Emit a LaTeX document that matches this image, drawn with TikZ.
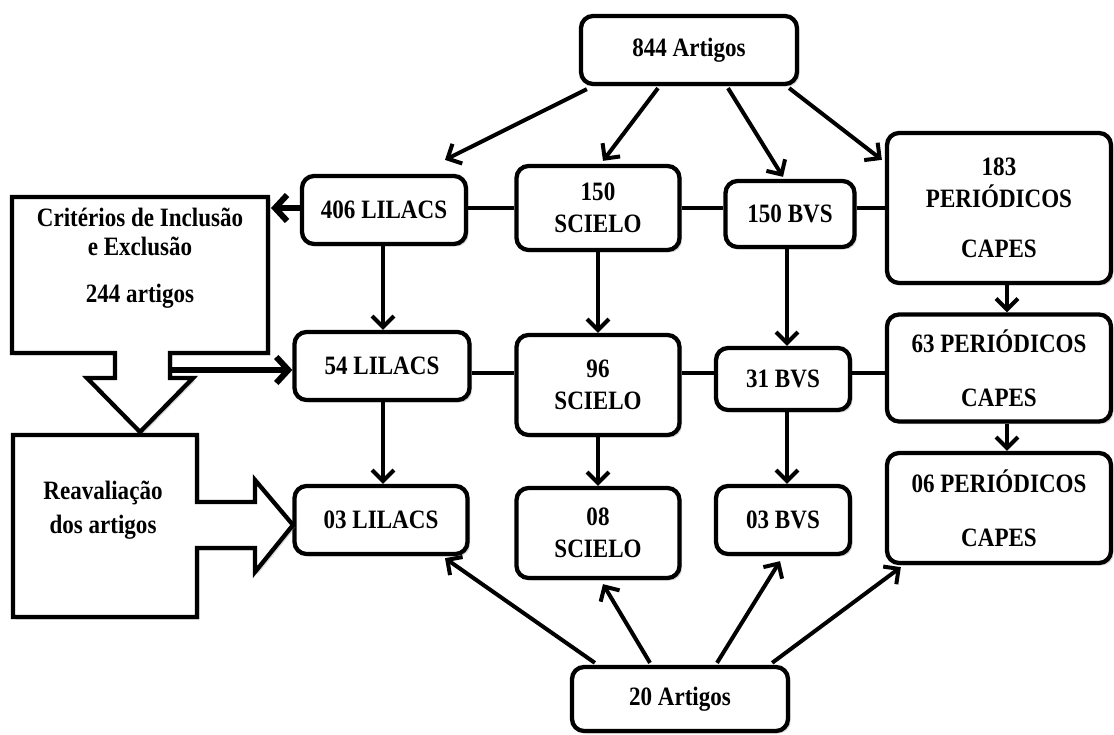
\documentclass[tikz,border=0pt]{standalone}
\usepackage{fontspec}
\setmainfont{Liberation Serif}[FakeStretch=0.87]
\usetikzlibrary{arrows.meta,calc,shadows}
\begin{document}
\begin{tikzpicture}[x=1pt,y=-1pt,
  shad/.style={drop shadow={shadow xshift=2.5pt,shadow yshift=-2.5pt,opacity=0.3}},
  box/.style={draw,line width=4.3pt,rounded corners=12pt,fill=white,align=center,
    inner sep=0pt,font=\bfseries\fontsize{26.5}{32}\selectfont,shad},
  txt/.style={align=center,inner sep=0pt,font=\bfseries\fontsize{26.5}{32}\selectfont},
  arr/.style={line width=4pt,-{Straight Barb[length=11pt,width=22pt]}},
  bigarr/.style={line width=6pt,-{Straight Barb[length=12pt,width=26pt]}},
  ln/.style={line width=4pt},
  callout/.style={draw,line width=4.3pt,fill=white,line join=miter,shad}]
\useasboundingbox (0,0) rectangle (1114,735);

% ---- boxes ----
\node[box,minimum width=216pt,minimum height=68pt] (n844) at (689,50) {844 Artigos};
\node[box,minimum width=164pt,minimum height=68pt] (l406) at (384,210) {406 LILACS};
\node[box,minimum width=163pt,minimum height=84pt] (s150) at (598,208) {150\\SCIELO};
\node[box,minimum width=129pt,minimum height=66pt] (b150) at (790,214) {150 BVS};
\node[box,minimum width=224pt,minimum height=150pt] (c183) at (999,208) {183\\PERIÓDICOS\\[18pt]CAPES};

\node[box,minimum width=175pt,minimum height=68pt] (l54) at (382,366) {54 LILACS};
\node[box,minimum width=163pt,minimum height=100pt] (s96) at (598,385) {96\\SCIELO};
\node[box,minimum width=134pt,minimum height=62pt] (b31) at (783,379) {31 BVS};
\node[box,minimum width=224pt,minimum height=107pt] (c63) at (999,368) {63 PERIÓDICOS\\[22pt]CAPES};

\node[box,minimum width=173pt,minimum height=68pt] (l03) at (381,520) {03 LILACS};
\node[box,minimum width=163pt,minimum height=90pt] (s08) at (598,533) {08\\SCIELO};
\node[box,minimum width=134pt,minimum height=68pt] (b03) at (783,520) {03 BVS};
\node[box,minimum width=224pt,minimum height=110pt] (c06) at (999,508) {06 PERIÓDICOS\\[22pt]CAPES};

\node[box,minimum width=216pt,minimum height=64pt] (n20) at (680,699) {20 Artigos};

% ---- callouts ----
\draw[callout] (12,197) -- (268,197) -- (268,353) -- (170,353) -- (170,378) -- (193,378)
  -- (140,432) -- (87,378) -- (115,378) -- (115,353) -- (12,353) -- cycle;
\node[txt,font=\bfseries\fontsize{26.5}{29}\selectfont] (crit) at (140,258)
  {Critérios de Inclusão\\e Exclusão\\[18pt]244 artigos};
\coordinate (critE) at (271,208);
\coordinate (critS) at (172,370);

\draw[callout] (13,435) -- (197,435) -- (197,502) -- (255,502) -- (255,480) -- (293,525)
  -- (255,572) -- (255,548) -- (197,548) -- (197,617) -- (13,617) -- cycle;
\node[txt,font=\bfseries\fontsize{26.5}{34}\selectfont] (reav) at (103,510) {Reavaliação\\dos artigos};

% ---- helper coordinates ----
\coordinate (r1) at (0,208);
\coordinate (r2) at (0,373);
\coordinate (vl) at (383,0);
\coordinate (vs) at (598,0);
\coordinate (vb) at (787,0);
\coordinate (vc) at (1007,0);

% ---- horizontal links ----
\draw[ln] (r1 -| l406.east) -- (r1 -| s150.west);
\draw[ln] (r1 -| s150.east) -- (r1 -| b150.west);
\draw[ln] (r1 -| b150.east) -- (r1 -| c183.west);
\draw[ln] (r2 -| l54.east) -- (r2 -| s96.west);
\draw[ln] (r2 -| s96.east) -- (r2 -| b31.west);
\draw[ln] (r2 -| b31.east) -- (r2 -| c63.west);

% ---- vertical arrows ----
\draw[arr] (vl |- l406.south) -- (vl |- l54.north);
\draw[arr] (vs |- s150.south) -- (vs |- s96.north);
\draw[arr] (vb |- b150.south) -- (vb |- b31.north);
\draw[arr] (vc |- c183.south) -- (vc |- c63.north);
\draw[arr] (vl |- l54.south) -- (vl |- l03.north);
\draw[arr] (vs |- s96.south) -- (vs |- s08.north);
\draw[arr] (vb |- b31.south) -- (vb |- b03.north);
\draw[arr] (vc |- c63.south) -- (vc |- c06.north);

% ---- from 844 Artigos ----
\draw[arr] ($(n844.south west)+(8,3)$) -- ($(l406.north)+(61,-14)$);
\draw[arr] ($(n844.south)+(-31,2)$) -- ($(s150.north)+(5,-3)$);
\draw[arr] ($(n844.south)+(39,2)$) -- ($(b150.north)+(-7,-2)$);
\draw[arr] ($(n844.south east)+(-10,2)$) -- ($(c183.north west)+(-3,29)$);

% ---- to the results ----
\draw[arr] ($(n20.north west)+(25,-2)$) -- ($(l03.south)+(64,2)$);
\draw[arr] ($(n20.north)+(-30,-2)$) -- ($(s08.south)+(5,4)$);
\draw[arr] ($(n20.north)+(37,-2)$) -- ($(b03.south)+(-3,5)$);
\draw[arr] ($(n20.north east)+(-18,-2)$) -- ($(c06.south west)+(16,2)$);

% ---- callout links ----
\draw[bigarr] (r1 -| l406.west) -- (r1 -| critE);
\draw[bigarr] (critS) -- (critS -| l54.west);
\end{tikzpicture}
\end{document}
